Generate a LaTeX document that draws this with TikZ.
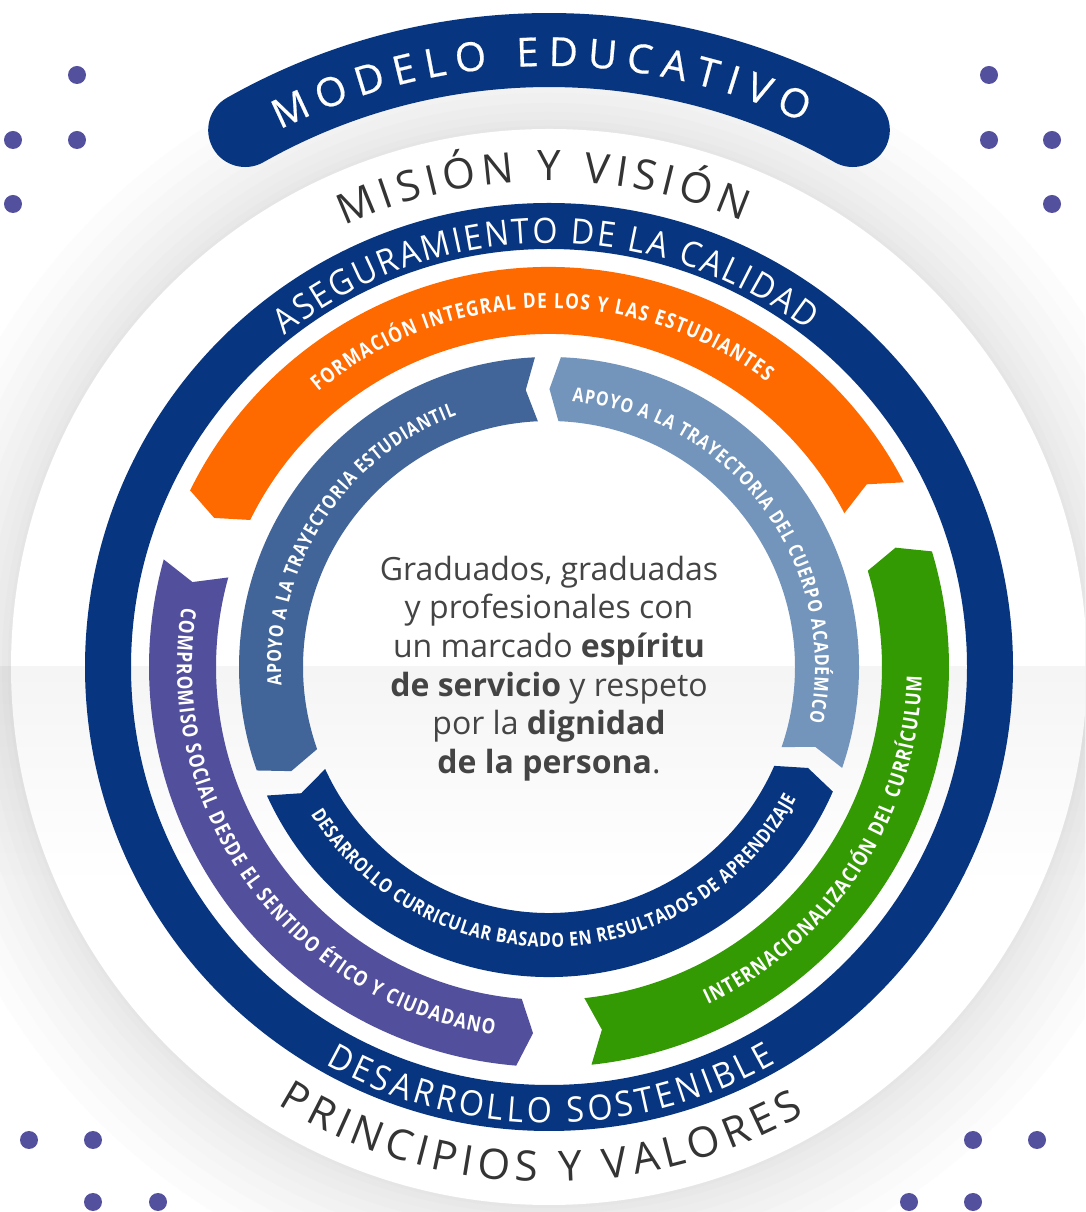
\documentclass[tikz,border=0pt]{standalone}
\usepackage{fontspec}
\setmainfont{Open Sans}
\newfontfamily\condfont[FakeStretch=0.82]{Open Sans}
\newfontfamily\ringfont[FakeStretch=0.92]{Open Sans}
\newfontfamily\titlefont[FakeBold=0.5]{Open Sans}
\usetikzlibrary{decorations.text}
\definecolor{navy}{RGB}{7,53,128}
\definecolor{orng}{RGB}{255,106,0}
\definecolor{grn}{RGB}{52,154,4}
\definecolor{purp}{RGB}{82,79,156}
\definecolor{steel}{RGB}{65,101,153}
\definecolor{lsteel}{RGB}{115,148,187}
\definecolor{dotc}{RGB}{83,80,158}
\definecolor{txtg}{RGB}{68,68,68}
\definecolor{headg}{RGB}{52,52,52}
\pgfdeclareverticalshading{lowfade}{100bp}{color(0bp)=(white); color(55bp)=(white); color(100bp)=(black!9)}
% color, inner r, outer r, mid r, start angle, end angle, mid angle at start, mid angle at end
\newcommand\ringband[8]{\fill[#1] (#5:#3) arc[start angle=#5,end angle=#6,radius=#3] -- (#8:#4) -- (#6:#2) arc[start angle=#6,end angle=#5,radius=#2] -- (#7:#4) -- cycle;}
\newcommand\fTitle{\titlefont\fontsize{40}{40}\selectfont}
\newcommand\fMision{\fontsize{42}{42}\selectfont}
\newcommand\fRing{\ringfont\fontsize{35}{35}\selectfont}
\newcommand\fBand{\condfont\bfseries\fontsize{21}{21}\selectfont}
\newcommand\fInner{\condfont\bfseries\fontsize{19.5}{19.5}\selectfont}
\tikzset{
  arcw/.style={decorate, decoration={text along path, text color=white, text align={fit to path=true}, text={#1}}},
  arcg/.style={decorate, decoration={text along path, text color=headg, text align={fit to path=true}, text={#1}}},
  dot/.style={fill=dotc},
}
\begin{document}
\begin{tikzpicture}[x=1pt,y=1pt]
\useasboundingbox (0,0) rectangle (1085,1212);
\clip (0,0) rectangle (1085,1212);
\fill[white] (0,0) rectangle (1085,1212);
% soft shadow round the disc
\foreach \r/\c in {640/1,624/2,610/3,597/4,585/5,574/6,564/7,555/8,547/9,541/10}
  \fill[black!\c] (549,545) circle[radius=\r];
\fill[white] (549,545) circle[radius=538];
\shade[shading=lowfade, blend mode=multiply] (0,0) rectangle (1085,545);
% dots
\foreach \p in {(77,1137),(13,1072),(77,1072),(13,1008),(989,1137),(989,1072),(1052,1072),(1052,1008),(29,72),(93,72),(93,10),(158,10),(973,72),(1037,72),(909,10),(973,10)}
  \fill[dot] \p circle[radius=9];
\begin{scope}[shift={(549,545)}]
  % title banner
  \draw[navy, line width=74, line cap=round] (119.5:617) arc[start angle=119.5, end angle=60.5, radius=617];
  % quality ring
  \draw[navy, line width=46] (0,0) circle[radius=441];
  % outer bands
  \ringband{orng}{333}{400}{366.5}{27.5}{153.8}{29.9}{156}
  \ringband{purp}{333}{400}{366.5}{164.4}{265.3}{166.6}{267.5}
  \ringband{grn}{333}{400}{366.5}{276.1}{376.8}{278.3}{379}
  % inner bands
  \ringband{lsteel}{246}{310}{278}{-19}{87.8}{-16.7}{89.9}
  \ringband{steel}{246}{310}{278}{92.6}{199.5}{94.8}{202}
  \ringband{navy}{246}{310}{278}{204.5}{336.3}{207}{338.7}
  % curved texts
  \path[arcw={|\fTitle|MODELO EDUCATIVO}] (116.6:601) arc[start angle=116.6, end angle=65, radius=601];
  \path[arcg={|\fMision|MISIÓN Y VISIÓN}] (114.9:486) arc[start angle=114.9, end angle=66.5, radius=486];
  \path[arcw={|\fRing|ASEGURAMIENTO DE LA CALIDAD}] (128.5:424) arc[start angle=128.5, end angle=52.5, radius=424];
  \path[arcw={|\fRing|DESARROLLO SOSTENIBLE}] (240.6:456) arc[start angle=240.6, end angle=299.8, radius=456];
  \path[arcg={|\fMision|PRINCIPIOS Y VALORES}] (238.2:515) arc[start angle=238.2, end angle=299.7, radius=515];
  \path[arcw={|\fBand|FORMACIÓN INTEGRAL DE LOS Y LAS ESTUDIANTES}] (130:359) arc[start angle=130, end angle=52.7, radius=359];
  \path[arcw={|\fBand|COMPROMISO SOCIAL DESDE EL SENTIDO ÉTICO Y CIUDADANO}] (170.8:372) arc[start angle=170.8, end angle=261.5, radius=372];
  \path[arcw={|\fBand|INTERNACIONALIZACIÓN DEL CURRÍCULUM}] (295.2:373) arc[start angle=295.2, end angle=358.5, radius=373];
  \path[arcw={|\fInner|APOYO A LA TRAYECTORIA ESTUDIANTIL}] (184:268) arc[start angle=184, end angle=110.2, radius=268];
  \path[arcw={|\fInner|APOYO A LA TRAYECTORIA DEL CUERPO ACADÉMICO}] (85:266) arc[start angle=85, end angle=-12, radius=266];
  \path[arcw={|\fInner|DESARROLLO CURRICULAR BASADO EN RESULTADOS DE APRENDIZAJE}] (211.7:280) arc[start angle=211.7, end angle=332, radius=280];
  % center text
  \node[align=center, text=txtg, font=\fontsize{32}{38.6}\selectfont, inner sep=0pt] (centre) at (0,-1.5)
    {Graduados, graduadas\\ y profesionales con\\ un marcado \textbf{espíritu}\\ \textbf{de servicio} y respeto\\ por la \textbf{dignidad}\\ \textbf{de la persona}.};
\end{scope}
\end{tikzpicture}
\end{document}
